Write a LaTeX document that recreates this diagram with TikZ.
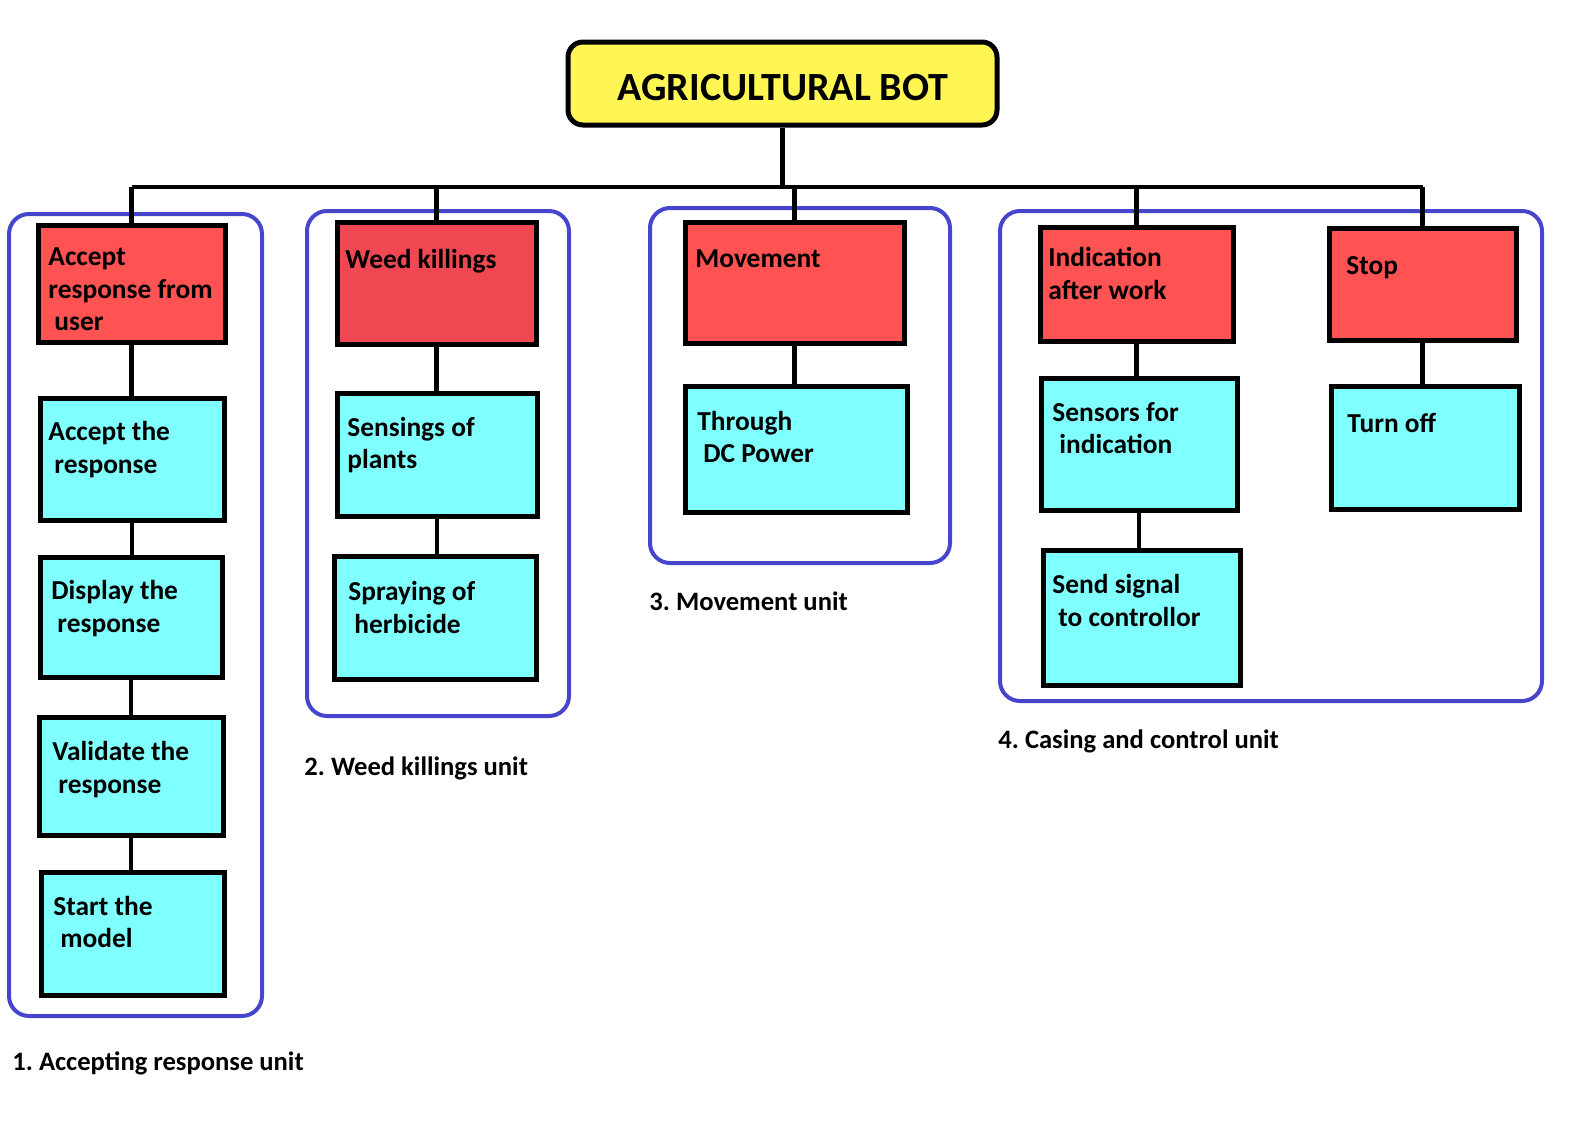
\documentclass[tikz,border=0pt]{standalone}
\usepackage{fontspec}
\setmainfont{Carlito}
\usetikzlibrary{fit}
\definecolor{rfill}{HTML}{FF5252}
\definecolor{wfill}{HTML}{EF4852}
\definecolor{cfill}{HTML}{80FFFF}
\definecolor{yfill}{HTML}{FFF653}
\definecolor{gblue}{HTML}{4646CD}
\tikzset{
  boxbase/.style={draw=black, line width=2.5pt, inner sep=0pt},
  redbox/.style={boxbase, fill=rfill},
  weedbox/.style={boxbase, fill=wfill},
  cyanbox/.style={boxbase, fill=cfill},
  grp/.style={draw=gblue, line width=2pt, rounded corners=10pt, inner sep=0pt},
  conn/.style={draw=black, line width=2.4pt},
  txt/.style={anchor=base west, inner sep=0pt, font=\fontsize{13.7}{16}\selectfont\bfseries},
  lbl/.style={anchor=base west, inner sep=0pt, font=\fontsize{13.3}{16}\selectfont\bfseries},
  rootbox/.style={draw=black, line width=2.5pt, fill=yfill, rounded corners=7.5pt, inner sep=0pt},
}
\begin{document}
\begin{tikzpicture}[x=0.5pt,y=-0.5pt]
\useasboundingbox (0,0) rectangle (1581,1140);
% groups
\node[grp, fit={(9,214)(262,1016)}] (g1) {};
\node[grp, fit={(307,211)(569,716)}] (g2) {};
\node[grp, fit={(650,208)(950,563)}] (g3) {};
\node[grp, fit={(1000,211)(1542,701)}] (g4) {};
% root
\node[rootbox, fit={(568,42)(997,125)}] (root) {};
\node[inner sep=0pt, font=\fontsize{20}{24}\selectfont\bfseries] (roott) at (783,88) {AGRICULTURAL BOT};
% boxes
\node[redbox, fit={(38,225)(225,342)}] (a1) {};
\node[cyanbox, fit={(40,398)(224,520)}] (a2) {};
\node[cyanbox, fit={(40,557)(222,677)}] (a3) {};
\node[cyanbox, fit={(39,717)(223,835)}] (a4) {};
\node[cyanbox, fit={(41,872)(224,995)}] (a5) {};
\node[weedbox, fit={(337,222)(536,344)}] (w1) {};
\node[cyanbox, fit={(337,393)(537,516)}] (w2) {};
\node[cyanbox, fit={(334,556)(536,679)}] (w3) {};
\node[redbox, fit={(685,222)(904,343)}] (m1) {};
\node[cyanbox, fit={(685,386)(907,512)}] (m2) {};
\node[redbox, fit={(1040,227)(1233,341)}] (i1) {};
\node[cyanbox, fit={(1041,378)(1237,510)}] (i2) {};
\node[cyanbox, fit={(1043,550)(1240,685)}] (i3) {};
\node[redbox, fit={(1329,228)(1516,340)}] (s1) {};
\node[cyanbox, fit={(1331,386)(1519,509)}] (s2) {};
% bus
\coordinate (bus) at (0,187);
\draw[conn] (root.south) -- (root.south |- bus);
\draw[conn] (a1.north |- bus) -- (s1.north |- bus);
\foreach \b in {a1,w1,m1,i1,s1} {\draw[conn] (\b.north |- bus) -- (\b.north);}
% connectors
\draw[conn] (a1.south) -- (a1.south |- a2.north);
\draw[conn] (a2.south) -- (a2.south |- a3.north);
\draw[conn] (a3.south) -- (a3.south |- a4.north);
\draw[conn] (a4.south) -- (a4.south |- a5.north);
\draw[conn] (w1.south) -- (w1.south |- w2.north);
\draw[conn] (w2.south) -- (w2.south |- w3.north);
\draw[conn] (m1.south) -- (m1.south |- m2.north);
\draw[conn] (i1.south) -- (i1.south |- i2.north);
\draw[conn] (i2.south) -- (i2.south |- i3.north);
\draw[conn] (s1.south) -- (s1.south |- s2.north);
% texts
\node[txt] (ta1a) at (48,265) {Accept};
\node[txt] (ta1b) at (48,298) {response from};
\node[txt] (ta1c) at (54,330) {user};
\node[txt] (ta2a) at (48,440) {Accept the};
\node[txt] (ta2b) at (54,473) {response};
\node[txt] (ta3a) at (51,599) {Display the};
\node[txt] (ta3b) at (57,632) {response};
\node[txt] (ta4a) at (52,760) {Validate the};
\node[txt] (ta4b) at (58,793) {response};
\node[txt] (ta5a) at (53,915) {Start the};
\node[txt] (ta5b) at (60,947) {model};
\node[txt] (tw1) at (345,268) {Weed killings};
\node[txt] (tw2a) at (347,436) {Sensings of};
\node[txt] (tw2b) at (347,468) {plants};
\node[txt] (tw3a) at (348,600) {Spraying of};
\node[txt] (tw3b) at (354,633) {herbicide};
\node[txt] (tm1) at (695,267) {Movement};
\node[txt] (tm2a) at (697,430) {Through};
\node[txt] (tm2b) at (703,462) {DC Power};
\node[txt] (ti1a) at (1048,266) {Indication};
\node[txt] (ti1b) at (1048,299) {after work};
\node[txt] (ts1) at (1346,274) {Stop};
\node[txt] (ti2a) at (1052,421) {Sensors for};
\node[txt] (ti2b) at (1059,453) {indication};
\node[txt] (ts2) at (1347,432) {Turn off};
\node[txt] (ti3a) at (1052,593) {Send signal};
\node[txt] (ti3b) at (1058,626) {to controllor};
% unit labels
\node[lbl] (l1) at (12,1070) {1.~Accepting response unit};
\node[lbl] (l2) at (304,775) {2.~Weed killings unit};
\node[lbl] (l3) at (649,610) {3.~Movement unit};
\node[lbl] (l4) at (998,748) {4.~Casing and control unit};
\end{tikzpicture}
\end{document}
